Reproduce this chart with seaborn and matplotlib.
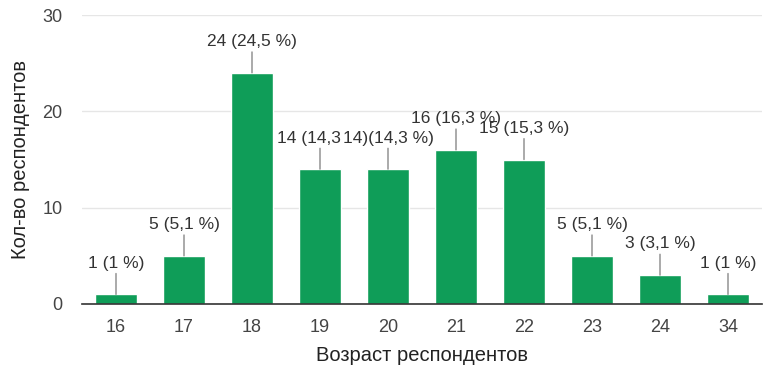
import matplotlib
matplotlib.use("Agg")
import matplotlib.pyplot as plt
import seaborn as sns
import pandas as pd

ages = ["16", "17", "18", "19", "20", "21", "22", "23", "24", "34"]
counts = [1, 5, 24, 14, 14, 16, 15, 5, 3, 1]
labels = ["1 (1 %)", "5 (5,1 %)", "24 (24,5 %)", "14 (14,3", "14)(14,3 %)",
          "16 (16,3 %)", "15 (15,3 %)", "5 (5,1 %)", "3 (3,1 %)", "1 (1 %)"]
y_ticks = [0, 10, 20, 30]

sns.set_theme(style="white")
plt.rcParams['font.family'] = ['Liberation Sans', 'DejaVu Sans']

df = pd.DataFrame({"age": ages, "count": counts})

fig = plt.figure(figsize=(7.81, 3.70), dpi=100)
ax = fig.add_axes([82/781, 1 - 304/370, (762-82)/781, (304-15)/370])

sns.barplot(data=df, x="age", y="count", order=ages, color="#0f9d58",
            saturation=1, width=0.62, ax=ax, zorder=3)

ax.set_ylim(0, 30)
ax.set_xlim(-0.5, len(ages) - 0.5)
ax.set_yticks(y_ticks)
ax.grid(axis="y", color="#e6e6e6", linewidth=1, zorder=0)
for s in ["top", "right", "left"]:
    ax.spines[s].set_visible(False)
ax.spines["bottom"].set_color("#333333")
ax.spines["bottom"].set_linewidth(1.2)
ax.spines["bottom"].set_zorder(4)
ax.tick_params(axis="both", length=0, labelsize=13, colors="#444444")
ax.tick_params(axis="x", pad=11)
ax.tick_params(axis="y", pad=14)

ax.set_xlabel("Возраст респондентов", fontsize=14.5, color="#222222", labelpad=7)
ax.set_ylabel("Кол-во респондентов", fontsize=14.5, color="#222222", labelpad=9)

for i, (v, lab) in enumerate(zip(counts, labels)):
    ax.annotate("", xy=(i, v), xytext=(0, 15), textcoords="offset points",
                xycoords="data",
                arrowprops=dict(arrowstyle="-", color="#888888", lw=1,
                                shrinkA=0, shrinkB=0), zorder=5)
    if lab == "14 (14,3":
        ax.annotate(lab, xy=(i, v), xytext=(-31, 17), textcoords="offset points",
                    ha="left", va="bottom", fontsize=12.5, color="#333333",
                    annotation_clip=False)
    else:
        ax.annotate(lab, xy=(i, v), xytext=(0, 17), textcoords="offset points",
                    ha="center", va="bottom", fontsize=12.5, color="#333333",
                    annotation_clip=False)

fig.savefig("out.png", dpi=100)
